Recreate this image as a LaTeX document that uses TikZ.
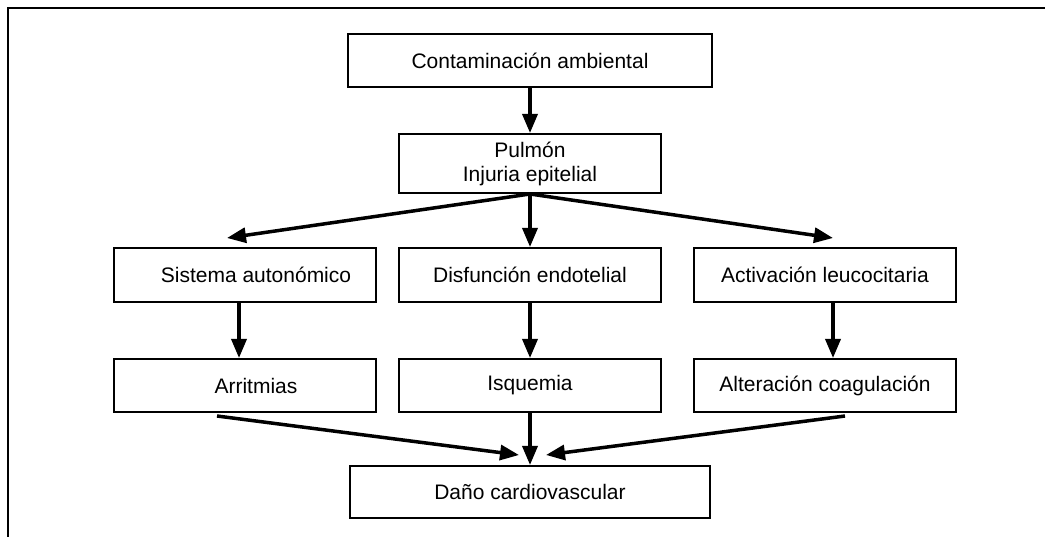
\documentclass[tikz,border=0pt]{standalone}
\usepackage{fontspec}
\setmainfont{Liberation Sans}
\usetikzlibrary{arrows.meta}
\tikzset{
  caja/.style={draw, line width=2pt, minimum width=262pt, minimum height=54pt, inner sep=0pt, align=center},
  flecha/.style={-{Triangle[width=15pt,length=19pt]}, line width=3.5pt},
}
\begin{document}
\begin{tikzpicture}[font=\fontsize{21}{24}\selectfont, line join=miter, x=1pt, y=-1pt]
\useasboundingbox (0,0) rectangle (1045,537);
\draw[line width=2.5pt] (8,537) -- (8,8) -- (1045,8);
\node[caja, minimum width=364pt, minimum height=53pt] (cont) at (530,60.5) {Contaminación ambiental};
\node[caja, minimum height=59pt] (pulm) at (530,163.5) {Pulmón\\Injuria epitelial};
\foreach \n/\x/\t in {sist/245/\hspace*{22pt}Sistema autonómico, disf/530/Disfunción endotelial, activ/825/Activación leucocitaria}
  \node[caja] (\n) at (\x,275) {\t};
\foreach \n/\x/\t in {arrit/245/\hspace*{22pt}Arritmias, isq/530/Isquemia, alter/825/Alteración coagulación}
  \node[caja, minimum height=53pt] (\n) at (\x,385.5) {\t};
\node[caja, minimum width=360pt, minimum height=52pt] (dano) at (530,492) {Daño cardiovascular};
\coordinate (izq) at (227,238);
\coordinate (der) at (833,238);
\coordinate (a1) at (217,416);
\coordinate (a2) at (845,416);
\coordinate (t1) at (519,455);
\coordinate (t2) at (546,455);
\draw[flecha] (cont.south) -- (pulm.north);
\draw[flecha] (pulm.south) -- (izq);
\draw[flecha] (pulm.south) -- (disf.north);
\draw[flecha] (pulm.south) -- (der);
\draw[flecha] ([xshift=-6pt]sist.south) -- ([xshift=-6pt]arrit.north);
\draw[flecha] (disf.south) -- (isq.north);
\draw[flecha] ([xshift=8pt]activ.south) -- ([xshift=8pt]alter.north);
\draw[flecha] (a1) -- (t1);
\draw[flecha] (isq.south) -- (dano.north);
\draw[flecha] (a2) -- (t2);
\end{tikzpicture}
\end{document}
